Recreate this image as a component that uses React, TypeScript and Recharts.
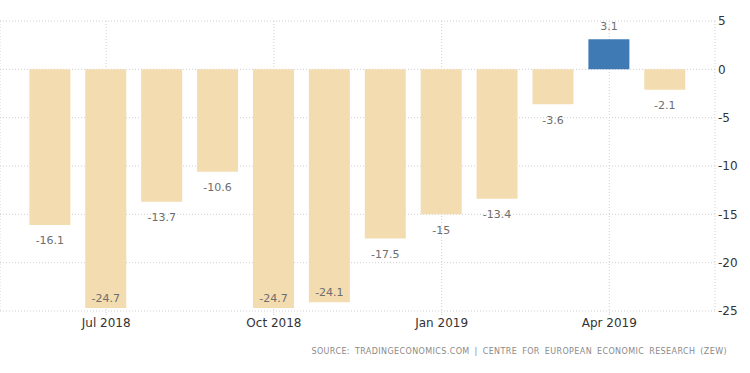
import { BarChart, Bar, XAxis, YAxis, CartesianGrid, Cell, LabelList } from "recharts";

const months = [
  "Jun 2018", "Jul 2018", "Aug 2018", "Sep 2018", "Oct 2018", "Nov 2018",
  "Dec 2018", "Jan 2019", "Feb 2019", "Mar 2019", "Apr 2019", "May 2019",
];
const values = [-16.1, -24.7, -13.7, -10.6, -24.7, -24.1, -17.5, -15, -13.4, -3.6, 3.1, -2.1];
const yTicks = [-25, -20, -15, -10, -5, 0, 5];
const xTickMonths = ["Jul 2018", "Oct 2018", "Jan 2019", "Apr 2019"];

const data = months.map((m, i) => ({ idx: i, month: m, value: values[i] }));
const xTicks = xTickMonths.map((m) => months.indexOf(m));

const FONT = "'DejaVu Sans', Verdana, sans-serif";

function ValueLabel(props: any) {
  const { x, y, width, height, value } = props;
  const top = Math.min(y, y + height);
  const bottom = Math.max(y, y + height);
  let ly: number;
  if (value >= 0) ly = top - 13;
  else ly = bottom + 16 > 302 ? bottom - 10 : bottom + 16;
  return (
    <text
      x={x + width / 2}
      y={ly}
      textAnchor="middle"
      dominantBaseline="central"
      fontSize={11}
      fontFamily={FONT}
      fill="#6e6e6e"
    >
      {value}
    </text>
  );
}

export default function App() {
  return (
    <div style={{ position: "absolute", left: 0, top: 0, width: 750, height: 373, background: "#fff" }}>
      <BarChart width={750} height={373} data={data} margin={{ top: 21, right: 0, bottom: 32, left: 0 }}>
        <CartesianGrid stroke="#cfcfcf" strokeDasharray="1 2" />
        <XAxis
          dataKey="idx"
          type="number"
          domain={[-0.9, 11.89]}
          allowDataOverflow
          ticks={xTicks}
          tickFormatter={(i: number) => months[i]}
          axisLine={false}
          tickLine={{ stroke: "#cfcfcf", strokeDasharray: "1 1" }}
          tickSize={4}
          tickMargin={3}
          height={30}
          tick={{ fontSize: 12, fontFamily: FONT, fill: "#333" }}
        />
        <YAxis
          orientation="right"
          domain={[-25, 5]}
          ticks={yTicks}
          axisLine={false}
          tickLine={false}
          tickSize={0}
          tickMargin={3}
          width={35}
          tick={{ fontSize: 12, fontFamily: FONT, fill: "#333", textAnchor: "start" }}
        />
        <Bar dataKey="value" barSize={41} isAnimationActive={false}>
          {data.map((d) => (
            <Cell key={d.month} fill={d.value >= 0 ? "#3F7AB5" : "#F3DCB0"} />
          ))}
          <LabelList dataKey="value" content={<ValueLabel />} />
        </Bar>
      </BarChart>
      <div
        style={{
          position: "absolute",
          right: 23,
          top: 347,
          fontFamily: FONT,
          fontSize: 8,
          letterSpacing: 0.4,
          wordSpacing: 2,
          color: "#8a8a8a",
          whiteSpace: "nowrap",
        }}
      >
        SOURCE: TRADINGECONOMICS.COM | CENTRE FOR EUROPEAN ECONOMIC RESEARCH (ZEW)
      </div>
    </div>
  );
}
